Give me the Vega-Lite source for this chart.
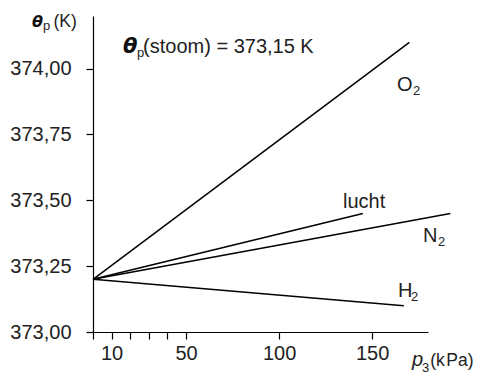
{
  "$schema": "https://vega.github.io/schema/vega-lite/v6.json",
  "width": 335,
  "height": 316,
  "autosize": {"type": "none"},
  "padding": {"left": 93, "top": 16, "right": 50, "bottom": 45},
  "background": "white",
  "config": {
    "view": {"stroke": null},
    "font": "Liberation Sans",
    "axis": {
      "grid": false,
      "domainColor": "#000",
      "domainWidth": 1.2,
      "tickColor": "#000",
      "tickWidth": 1.2,
      "tickSize": 7,
      "labelColor": "#222",
      "labelFont": "Liberation Sans",
      "labelFontSize": 20,
      "labelFlush": false,
      "labelOverlap": false,
      "labelBound": false,
      "title": null
    }
  },
  "datasets": {
    "lines": [
      {"gas": "O2", "p": 0, "T": 373.2},
      {"gas": "O2", "p": 170, "T": 374.1},
      {"gas": "lucht", "p": 0, "T": 373.2},
      {"gas": "lucht", "p": 145, "T": 373.45},
      {"gas": "N2", "p": 0, "T": 373.2},
      {"gas": "N2", "p": 192, "T": 373.45},
      {"gas": "H2", "p": 0, "T": 373.2},
      {"gas": "H2", "p": 167, "T": 373.1}
    ],
    "mainText": [
      {"p": 26.9, "T": 374.0595, "t": "(stoom) = 373,15 K"},
      {"p": 134.3, "T": 373.471, "t": "lucht"},
      {"p": 163.3, "T": 373.915, "t": "O"},
      {"p": 177.3, "T": 373.342, "t": "N"},
      {"p": 163.9, "T": 373.133, "t": "H"}
    ],
    "unitText": [
      {"p": -21.2, "T": 374.158, "t": "(K)"},
      {"p": 181.2, "T": 372.871, "t": "(k\u200aPa)"}
    ],
    "thetaBig": [
      {"p": 16.1, "T": 374.0595, "t": "θ"}
    ],
    "thetaSmall": [
      {"p": -32.8, "T": 374.158, "t": "θ"}
    ],
    "subText": [
      {"p": -26.9, "T": 374.147, "t": "p"},
      {"p": 23.6, "T": 374.044, "t": "p"},
      {"p": 171.9, "T": 373.9, "t": "2"},
      {"p": 185.4, "T": 373.327, "t": "2"},
      {"p": 170.9, "T": 373.118, "t": "2"},
      {"p": 176.8, "T": 372.848, "t": "3"}
    ],
    "italicText": [
      {"p": 171.4, "T": 372.871, "t": "p"}
    ]
  },
  "encoding": {
    "x": {
      "field": "p",
      "type": "quantitative",
      "scale": {"domain": [0, 180], "nice": false, "zero": false},
      "axis": {
        "values": [0, 10, 20, 30, 40, 50, 100, 150],
        "labelExpr": "indexof([0, 20, 30, 40], datum.value) >= 0 ? '' : datum.label",
        "labelPadding": 4,
        "title": null
      }
    },
    "y": {
      "field": "T",
      "type": "quantitative",
      "scale": {"domain": [373, 374.2], "nice": false, "zero": false},
      "axis": {
        "values": [373, 373.25, 373.5, 373.75, 374],
        "labelExpr": "replace(format(datum.value, '.2f'), '.', ',')",
        "labelPadding": 15,
        "title": null
      }
    }
  },
  "layer": [
    {
      "data": {"name": "lines"},
      "mark": {"type": "line", "color": "#000", "strokeWidth": 1.5, "clip": false},
      "encoding": {"detail": {"field": "gas"}}
    },
    {
      "data": {"name": "mainText"},
      "mark": {"type": "text", "align": "left", "baseline": "alphabetic", "fontSize": 20, "color": "#222"},
      "encoding": {"text": {"field": "t"}}
    },
    {
      "data": {"name": "unitText"},
      "mark": {"type": "text", "align": "left", "baseline": "alphabetic", "fontSize": 17.5, "color": "#222"},
      "encoding": {"text": {"field": "t"}}
    },
    {
      "data": {"name": "thetaBig"},
      "mark": {"type": "text", "align": "left", "baseline": "alphabetic", "font": "DejaVu Sans", "fontSize": 21, "fontStyle": "italic", "fontWeight": "bold", "color": "#111"},
      "encoding": {"text": {"field": "t"}}
    },
    {
      "data": {"name": "thetaSmall"},
      "mark": {"type": "text", "align": "left", "baseline": "alphabetic", "font": "DejaVu Sans", "fontSize": 16, "fontStyle": "italic", "fontWeight": "bold", "color": "#111"},
      "encoding": {"text": {"field": "t"}}
    },
    {
      "data": {"name": "subText"},
      "mark": {"type": "text", "align": "left", "baseline": "alphabetic", "fontSize": 13, "color": "#222"},
      "encoding": {"text": {"field": "t"}}
    },
    {
      "data": {"name": "italicText"},
      "mark": {"type": "text", "align": "left", "baseline": "alphabetic", "fontSize": 20, "fontStyle": "italic", "color": "#222"},
      "encoding": {"text": {"field": "t"}}
    }
  ]
}
